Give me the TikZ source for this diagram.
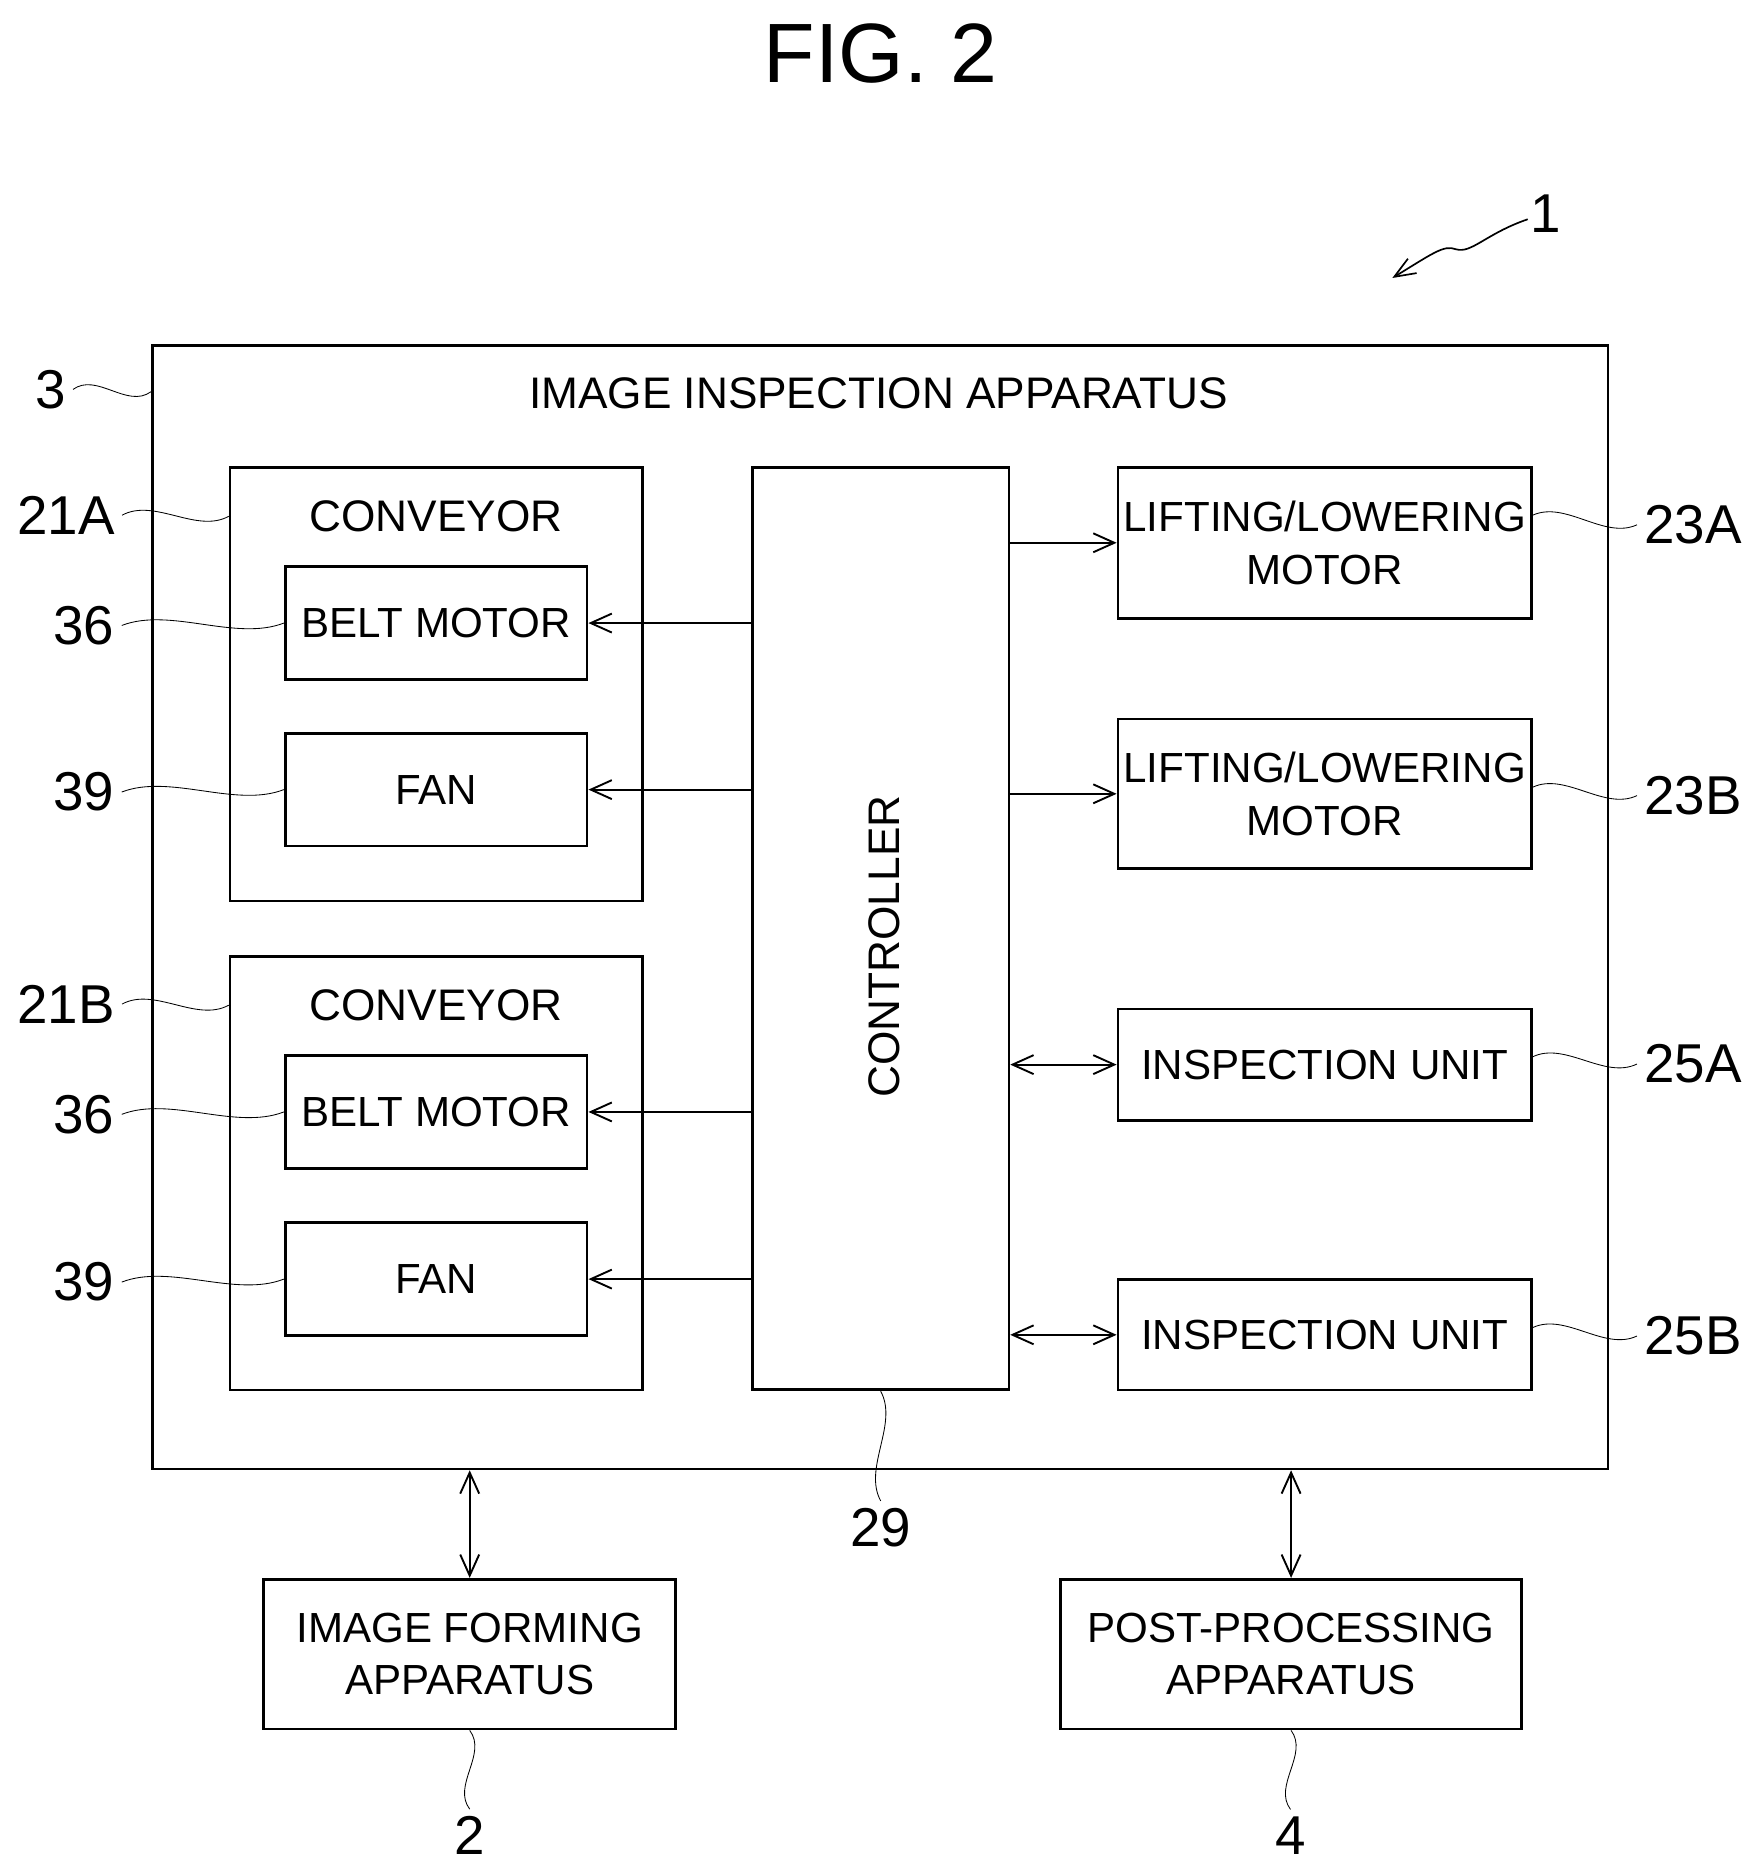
\documentclass[tikz,border=0pt]{standalone}
\usepackage{fontspec}
\setmainfont{Liberation Sans}
\usetikzlibrary{arrows.meta,calc}
\begin{document}
\begin{tikzpicture}[x=0.02cm,y=-0.02cm,
  every node/.style={font=\fontsize{21}{26}\selectfont},
  box/.style={draw,line width=1.3pt,inner sep=0pt,align=center,font=\fontsize{20}{25}\selectfont},
  lab/.style={font=\fontsize{26}{30}\selectfont},
  ar/.style={line width=0.9pt,-{Straight Barb[length=10pt,width=9pt]}},
  dar/.style={line width=0.9pt,{Straight Barb[length=10pt,width=9pt]}-{Straight Barb[length=10pt,width=9pt]}},
  sq/.style={line width=0.7pt,to path={.. controls ($(\tikztostart)!0.3!(\tikztotarget)!0.3cm!90:(\tikztotarget)$) and ($(\tikztostart)!0.7!(\tikztotarget)!0.3cm!-90:(\tikztotarget)$) .. (\tikztotarget)}}]
\useasboundingbox (0,0) rectangle (1467,1564);
\node[font=\fontsize{40}{46}\selectfont] (title) at (735,45) {FIG. 2};
\node[box,minimum width=24.3cm,minimum height=18.76cm] (outer) at (734.5,757) {};
\node (otitle) at (733,328) {IMAGE INSPECTION APPARATUS};
\node[box,minimum width=6.88cm,minimum height=7.24cm] (convA) at (364,571) {};
\node (convAt) at (364,431) {CONVEYOR};
\node[box,minimum width=5.04cm,minimum height=1.88cm] (beltA) at (364,520) {BELT MOTOR};
\node[box,minimum width=5.04cm,minimum height=1.88cm] (fanA) at (364,659) {FAN};
\node[box,minimum width=6.88cm,minimum height=7.24cm] (convB) at (364,979) {};
\node (convBt) at (364,839) {CONVEYOR};
\node[box,minimum width=5.04cm,minimum height=1.88cm] (beltB) at (364,928) {BELT MOTOR};
\node[box,minimum width=5.04cm,minimum height=1.88cm] (fanB) at (364,1067.5) {FAN};
\node[box,minimum width=4.28cm,minimum height=15.4cm] (ctrl) at (735,775) {};
\node[rotate=90] (ctrlt) at (738,790) {CONTROLLER};
\node[box,minimum width=6.9cm,minimum height=2.52cm] (liftA) at (1105.5,453) {LIFTING/LOWERING\\MOTOR};
\node[box,minimum width=6.9cm,minimum height=2.5cm] (liftB) at (1105.5,662.5) {LIFTING/LOWERING\\MOTOR};
\node[box,minimum width=6.9cm,minimum height=1.86cm] (inspA) at (1105.5,888.5) {INSPECTION UNIT};
\node[box,minimum width=6.9cm,minimum height=1.84cm] (inspB) at (1105.5,1114) {INSPECTION UNIT};
\node[box,minimum width=6.88cm,minimum height=2.5cm] (imgf) at (392,1380.5) {IMAGE FORMING\\APPARATUS};
\node[box,minimum width=7.7cm,minimum height=2.5cm] (post) at (1077.5,1380.5) {POST-PROCESSING\\APPARATUS};
% arrows
\draw[ar] (ctrl.west |- beltA.east) -- (beltA.east);
\draw[ar] (ctrl.west |- fanA.east) -- (fanA.east);
\draw[ar] (ctrl.west |- beltB.east) -- (beltB.east);
\draw[ar] (ctrl.west |- fanB.east) -- (fanB.east);
\draw[ar] (ctrl.east |- liftA.west) -- (liftA.west);
\draw[ar] (ctrl.east |- liftB.west) -- (liftB.west);
\draw[dar] (ctrl.east |- inspA.west) -- (inspA.west);
\draw[dar] (ctrl.east |- inspB.west) -- (inspB.west);
\draw[dar] (outer.south -| imgf.north) -- (imgf.north);
\draw[dar] (outer.south -| post.north) -- (post.north);
% reference labels
\node[lab] (l1) at (1290,178) {1};
\coordinate (l1a) at (1275,183);
\coordinate (l1e) at (1162,232);
\draw[line width=0.8pt,-{Straight Barb[length=10pt,width=8pt]}] (l1a) .. controls (1240,195) and (1228,212) .. (1215,208) .. controls (1205,204) and (1195,212) .. (l1e);
\node[lab] (l3) at (42,325) {3};
\draw (l3.east) to[sq] ($(outer.north west)+(0,40)$);
\node[lab] (l21A) at (55,430) {21A};
\draw (l21A.east) to[sq] ($(convA.north west)+(0,42)$);
\node[lab] (l36a) at (70,522) {36};
\draw (l36a.east) to[sq] (beltA.west);
\node[lab] (l39a) at (70,661) {39};
\draw (l39a.east) to[sq] (fanA.west);
\node[lab] (l21B) at (55,838) {21B};
\draw (l21B.east) to[sq] ($(convB.north west)+(0,42)$);
\node[lab] (l36b) at (70,930) {36};
\draw (l36b.east) to[sq] (beltB.west);
\node[lab] (l39b) at (70,1070) {39};
\draw (l39b.east) to[sq] (fanB.west);
\node[lab] (l23A) at (1413,438) {23A};
\draw (liftA.east |- 0,430) to[sq] (l23A.west);
\node[lab] (l23B) at (1413,664) {23B};
\draw (liftB.east |- 0,657) to[sq] (l23B.west);
\node[lab] (l25A) at (1413,888) {25A};
\draw (inspA.east |- 0,882) to[sq] (l25A.west);
\node[lab] (l25B) at (1413,1115) {25B};
\draw (inspB.east |- 0,1108) to[sq] (l25B.west);
\node[lab] (l29) at (735,1275) {29};
\draw (ctrl.south) to[sq] (l29.north);
\node[lab] (l2) at (392,1532) {2};
\draw (imgf.south) to[sq] (l2.north);
\node[lab] (l4) at (1077,1532) {4};
\draw (post.south) to[sq] (l4.north);
\end{tikzpicture}
\end{document}
